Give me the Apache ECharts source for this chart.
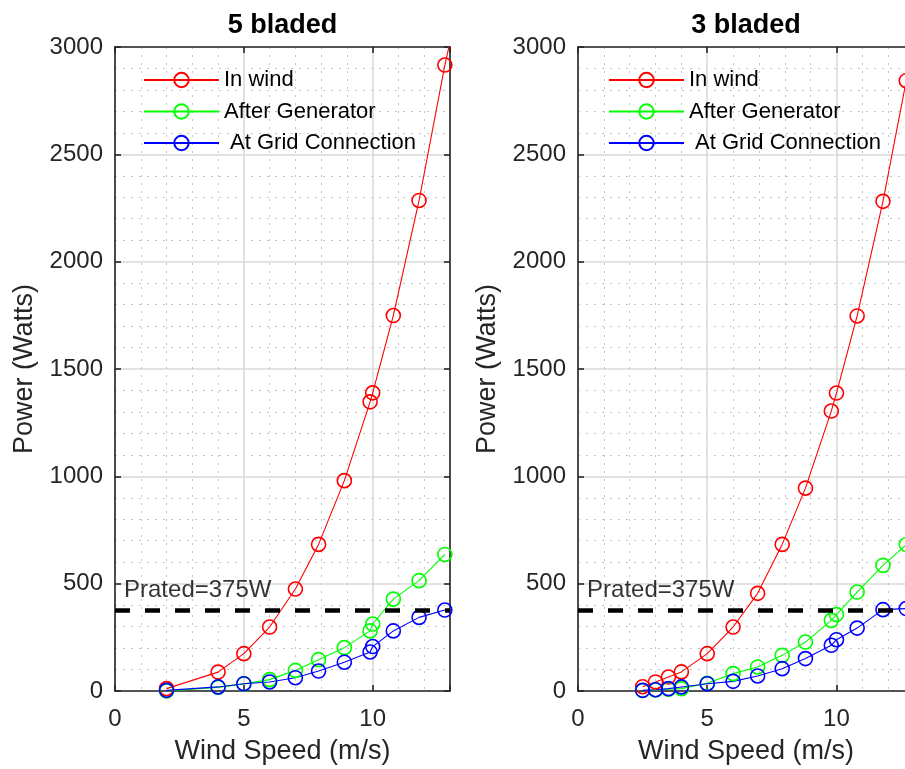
<!DOCTYPE html>
<html>
<head>
<meta charset="utf-8">
<script src="https://cdn.jsdelivr.net/npm/echarts@6/dist/echarts.min.js"></script>
<style>html,body{margin:0;padding:0;background:#fff;overflow:hidden;}#c{width:905px;height:769px;}</style>
</head>
<body>
<div id="c"></div>
<script>
// ---- data ----
var seriesNames = ['In wind', 'After Generator', ' At Grid Connection'];
var titles = ['5 bladed', '3 bladed'];
var yTicks = [0, 500, 1000, 1500, 2000, 2500, 3000];
var xTicks = [0, 5, 10];

// 5 bladed
var x5 = [2, 4, 5, 6, 7, 7.9, 8.9, 9.9, 10, 10.8, 11.8, 12.8];
var inWind5 = [11, 88, 174, 298, 475, 683, 980, 1347, 1389, 1749, 2285, 2916];
var inWind5TailX = [13.05];
var inWind5TailY = [3050];
var afterGen5 = [0, 17, 33, 53, 96, 146, 202, 280, 312, 428, 514, 636];
var grid5 = [3, 19, 34, 42, 62, 93, 134, 182, 207, 280, 343, 377];

// 3 bladed
var x3 = [2.5, 3, 3.5, 4, 5, 6, 6.95, 7.9, 8.8, 9.8, 10, 10.8, 11.8, 12.7];
var inWind3 = [20, 42, 65, 89, 174, 298, 455, 683, 945, 1304, 1388, 1747, 2281, 2843];
var afterGen3 = [2, 5, 8, 11, 36, 81, 112, 166, 228, 329, 356, 461, 585, 682];
var grid3 = [3, 6, 11, 19, 34, 45, 70, 104, 151, 213, 239, 293, 379, 384];

var pRated = 375;
var pRatedLabel = 'Prated=375W';
var pRatedLabelPos = [0.35, 470];
var xRange = [0, 13];
var yRange = [0, 3000];

// ---- build ----
var FONT = 'Liberation Sans';
var colors = ['#ff0000', '#00ff00', '#0000ff'];
function zip(xs, ys) { return xs.map(function (x, i) { return [x, ys[i]]; }); }

var chart = echarts.init(document.getElementById('c'), null, { renderer: 'canvas' });

var grids = [
  { left: 115, width: 335, top: 47, height: 644, outerBoundsMode: 'none', containLabel: false },
  { left: 578, width: 336, top: 47, height: 644, outerBoundsMode: 'none', containLabel: false }
];
var centers = [282.5, 746];

var xAxes = [], yAxes = [], series = [], legends = [], titleArr = [];
var axisLineStyle = { color: '#262626', width: 1.6 };

grids.forEach(function (g, gi) {
  xAxes.push({
    gridIndex: gi, type: 'value', min: xRange[0], max: xRange[1], interval: 5,
    name: 'Wind Speed (m/s)', nameLocation: 'middle', nameGap: 47,
    nameTextStyle: { fontFamily: FONT, fontSize: 27, color: '#262626' },
    axisLine: { show: true, onZero: false, lineStyle: axisLineStyle },
    axisTick: { show: true, inside: true, length: 6, lineStyle: axisLineStyle },
    axisLabel: { fontFamily: FONT, fontSize: 24, color: '#262626', margin: 16,
      formatter: function (v) { return xTicks.indexOf(v) >= 0 ? String(v) : ''; } },
    splitLine: { show: true, lineStyle: { color: '#dadada', width: 1.6 } },
    minorTick: { show: false, splitNumber: 5 },
    minorSplitLine: { show: true, lineStyle: { color: '#c4c4c4', width: 1, type: [2, 6] } }
  });
  xAxes.push({
    gridIndex: gi, type: 'value', position: 'top', min: xRange[0], max: xRange[1], interval: 5,
    axisLine: { show: true, onZero: false, lineStyle: axisLineStyle },
    axisTick: { show: true, inside: true, length: 6, lineStyle: axisLineStyle },
    axisLabel: { show: false }, splitLine: { show: false }
  });
  yAxes.push({
    gridIndex: gi, type: 'value', min: yRange[0], max: yRange[1], interval: 500,
    name: 'Power (Watts)', nameLocation: 'middle', nameGap: 77,
    nameTextStyle: { fontFamily: FONT, fontSize: 27, color: '#262626' },
    axisLine: { show: true, onZero: false, lineStyle: axisLineStyle },
    axisTick: { show: true, inside: true, length: 6, lineStyle: axisLineStyle },
    axisLabel: { fontFamily: FONT, fontSize: 24, color: '#262626', margin: 12,
      formatter: function (v) { return yTicks.indexOf(v) >= 0 ? String(v) : ''; } },
    splitLine: { show: true, lineStyle: { color: '#dadada', width: 1.6 } },
    minorTick: { show: false, splitNumber: 5 },
    minorSplitLine: { show: true, lineStyle: { color: '#c4c4c4', width: 1, type: [2, 6] } }
  });
  yAxes.push({
    gridIndex: gi, type: 'value', position: 'right', min: yRange[0], max: yRange[1], interval: 500,
    axisLine: { show: true, onZero: false, lineStyle: axisLineStyle },
    axisTick: { show: true, inside: true, length: 6, lineStyle: axisLineStyle },
    axisLabel: { show: false }, splitLine: { show: false }
  });
  titleArr.push({
    text: titles[gi], left: centers[gi], top: 12, textAlign: 'center', padding: 0,
    textStyle: { fontFamily: FONT, fontSize: 27, fontWeight: 'bold', color: '#000' }
  });
  legends.push({
    data: seriesNames, orient: 'vertical', left: gi === 0 ? 143 : 608, top: 69, padding: 0,
    itemWidth: 75, itemHeight: 18, itemGap: 9.5,
    textStyle: { fontFamily: FONT, fontSize: 22, color: '#000' },
    selectedMode: false
  });
});

function lineSeries(name, gi, data, color) {
  return {
    name: name, type: 'line', xAxisIndex: gi * 2, yAxisIndex: gi * 2,
    data: data, symbol: 'circle', symbolSize: 14, showAllSymbol: true,
    lineStyle: { color: color, width: 1.1 },
    itemStyle: { color: 'rgba(0,0,0,0)', borderColor: color, borderWidth: 1.6 },
    emphasis: { disabled: true }, animation: false, clip: true, z: 3
  };
}

var d5 = [zip(x5, inWind5).concat(zip(inWind5TailX, inWind5TailY).map(function (p) { return { value: p, symbol: 'none' }; })),
          zip(x5, afterGen5), zip(x5, grid5)];
var d3 = [zip(x3, inWind3), zip(x3, afterGen3), zip(x3, grid3)];

[d5, d3].forEach(function (ds, gi) {
  ds.forEach(function (d, si) { series.push(lineSeries(seriesNames[si], gi, d, colors[si])); });
  series.push({
    type: 'line', xAxisIndex: gi * 2, yAxisIndex: gi * 2,
    data: [[xRange[0], pRated], [xRange[1], pRated]], symbol: 'none',
    lineStyle: { color: '#000', width: 4.5, type: [15, 15] }, animation: false, z: 4, silent: true
  });
  series.push({
    type: 'scatter', xAxisIndex: gi * 2, yAxisIndex: gi * 2,
    data: [pRatedLabelPos], symbolSize: 0, animation: false, silent: true, z: 5,
    label: { show: true, position: 'right', distance: 0, formatter: pRatedLabel,
      fontFamily: FONT, fontSize: 24, color: '#000' }
  });
});

chart.setOption({
  backgroundColor: '#fff',
  animation: false,
  title: titleArr,
  legend: legends,
  grid: grids,
  xAxis: xAxes,
  yAxis: yAxes,
  series: series
});
</script>
</body>
</html>
